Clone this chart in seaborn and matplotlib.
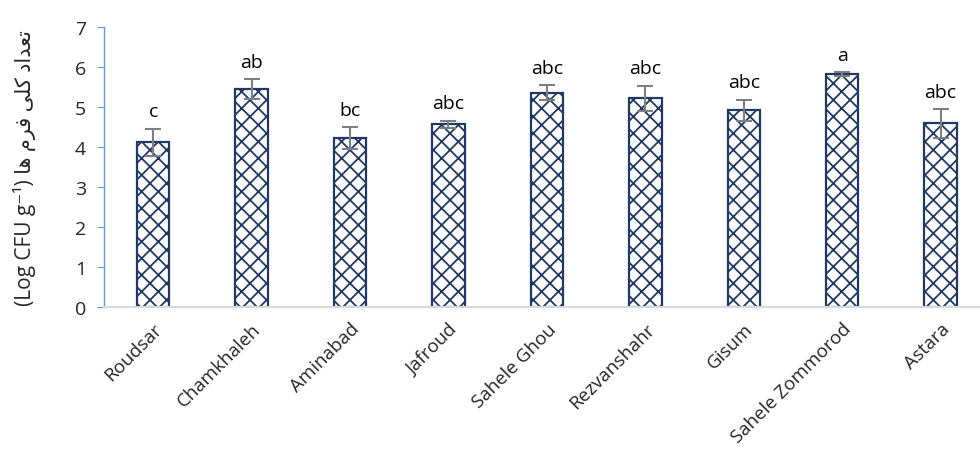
import matplotlib
matplotlib.use('Agg')
import matplotlib.pyplot as plt
import seaborn as sns
import pandas as pd

# 数据
sites = ['Roudsar', 'Chamkhaleh', 'Aminabad', 'Jafroud', 'Sahele Ghou',
         'Rezvanshahr', 'Gisum', 'Sahele Zommorod', 'Astara']
means = [4.12, 5.45, 4.22, 4.57, 5.36, 5.22, 4.92, 5.82, 4.59]
sds = [0.34, 0.25, 0.27, 0.09, 0.18, 0.31, 0.26, 0.05, 0.36]
letters = ['c', 'ab', 'bc', 'abc', 'abc', 'abc', 'abc', 'a', 'abc']

# Persian label in visual order with presentation forms (matplotlib has no shaping)
persian = '\uFE8E\uFEEB \uFEE1\uFEAE\uFED3 \uFBFD\uFEE0\uFB90 \uFEA9\uFE8D\uFEAA\uFECC\uFE97'
ylabel = '(Log CFU g\u207B\u00B9) ' + persian

sns.set_style('white')
plt.rcParams['font.family'] = ['Open Sans', 'DejaVu Sans']
plt.rcParams['hatch.color'] = '#1F3864'
plt.rcParams['hatch.linewidth'] = 1.3

navy = '#1F3864'
df = pd.DataFrame({'site': sites, 'mean': means})

fig = plt.figure(figsize=(9.8, 4.52), dpi=100)
ax = fig.add_axes([104 / 980, 144 / 452, 876 / 980, 280 / 452])

sns.barplot(data=df, x='site', y='mean', color='white', edgecolor=navy,
            linewidth=1.6, width=0.33, errorbar=None, ax=ax)
for p in ax.patches:
    p.set_hatch('xx')
    p.set_facecolor('white')

xs = [p.get_x() + p.get_width() / 2 for p in ax.patches]
ax.errorbar(xs, means, yerr=sds, fmt='none', ecolor='#7F7F7F',
            elinewidth=1.5, capsize=6, capthick=1.5, zorder=5)

# 显著性字母
for x, m, s, lab in zip(xs, means, sds, letters):
    ax.annotate(lab, (x, m + s), xytext=(0, 6), textcoords='offset points',
                ha='center', va='bottom', fontsize=14, color='black')

ax.set_xlim(-0.5, 8.4)
ax.set_ylim(0, 7)
ax.set_yticks(range(0, 8))
ax.tick_params(axis='y', labelsize=14, length=5, direction='out',
               color='#5B9BD5', pad=8, left=True)
ax.tick_params(axis='x', length=0, pad=9)
ax.set_xticks(range(len(sites)))
ax.set_xticklabels(sites, rotation=45, ha='right', rotation_mode='anchor',
                   fontsize=13.5)
ax.set_xlabel('')
ax.set_ylabel(ylabel, fontsize=15, labelpad=28)

for side in ['top', 'right']:
    ax.spines[side].set_visible(False)
ax.spines['left'].set_color('#5B9BD5')
ax.spines['left'].set_linewidth(1.0)
ax.spines['bottom'].set_color('#D9D9D9')
ax.spines['bottom'].set_linewidth(1.5)

fig.savefig('out.png', dpi=100, facecolor='white')
